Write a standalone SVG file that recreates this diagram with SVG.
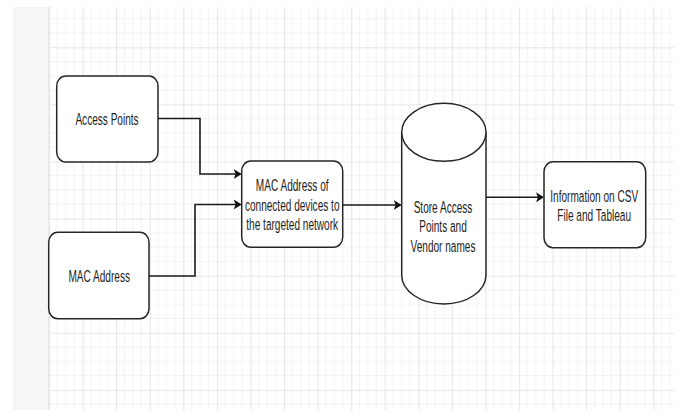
<svg xmlns="http://www.w3.org/2000/svg" width="679" height="410" viewBox="0 0 679 410">
  <style>
    .shape { fill: #ffffff; stroke: #262626; stroke-width: 1.5; }
    .label { font-family: "Liberation Sans", Arial, sans-serif; font-size: 12px; fill: #1e1e1e; text-anchor: middle; }
    .edge { fill: none; stroke: #1a1a1a; stroke-width: 1.6; marker-end: url(#arrow); }
    .minor { stroke: #f3f3f3; stroke-width: 1; }
    .major { stroke: #e6e6e6; stroke-width: 1.2; }
  </style>
  <defs>
    <!-- canvas grid: minor lines every 8.39 x 14.28, major every 4 minors -->
    <pattern id="grid" patternUnits="userSpaceOnUse" x="49" y="47.3" width="33.57" height="57.1">
      <line class="minor" x1="8.39" y1="0" x2="8.39" y2="57.1"/>
      <line class="minor" x1="16.79" y1="0" x2="16.79" y2="57.1"/>
      <line class="minor" x1="25.18" y1="0" x2="25.18" y2="57.1"/>
      <line class="minor" x1="0" y1="14.28" x2="33.57" y2="14.28"/>
      <line class="minor" x1="0" y1="28.55" x2="33.57" y2="28.55"/>
      <line class="minor" x1="0" y1="42.83" x2="33.57" y2="42.83"/>
      <line class="major" x1="0.5" y1="0" x2="0.5" y2="57.1"/>
      <line class="major" x1="0" y1="0.5" x2="33.57" y2="0.5"/>
    </pattern>
    <marker id="arrow" markerUnits="userSpaceOnUse" viewBox="0 0 8 10" markerWidth="8" markerHeight="10" refX="6.5" refY="5" orient="auto">
      <path d="M0,0 L8,5 L0,10 L2,5 Z" fill="#111111"/>
    </marker>
  </defs>

  <!-- page background -->
  <g id="canvas">
    <rect x="0" y="0" width="679" height="410" fill="#ffffff"/>
    <rect x="13" y="7" width="35" height="403" fill="#f5f6f8"/>
    <rect x="48" y="7" width="626" height="403" fill="#ffffff"/>
    <rect x="48" y="7" width="626" height="403" fill="url(#grid)"/>
    <line x1="48.5" y1="7" x2="48.5" y2="410" stroke="#e9eaec" stroke-width="1"/>
  </g>

  <!-- connectors -->
  <g id="connectors">
    <path class="edge" d="M158,118.5 H200 V174 H240.2"/>
    <path class="edge" d="M149,276 H195 V204.5 H240.2"/>
    <path class="edge" d="M342.7,205 H400.2"/>
    <path class="edge" d="M486,197.3 H542.5"/>
  </g>

  <g id="access-points">
    <rect class="shape" x="56.7" y="76" width="101.3" height="86" rx="9" ry="10"/>
    <text class="label" transform="translate(107,125) scale(0.84,1.44)">Access Points</text>
  </g>

  <g id="mac-address">
    <rect class="shape" x="48.7" y="232.3" width="100.3" height="86.4" rx="9" ry="10"/>
    <text class="label" transform="translate(99.2,282.3) scale(0.84,1.44)">MAC Address</text>
  </g>

  <g id="connected-devices">
    <rect class="shape" x="241.7" y="161" width="101" height="86.3" rx="9" ry="10"/>
    <text class="label" transform="translate(292.2,191) scale(0.84,1.44)">MAC Address of</text>
    <text class="label" transform="translate(292.2,210.7) scale(0.84,1.44)">connected devices to</text>
    <text class="label" transform="translate(292.2,230.4) scale(0.84,1.44)">the targeted network</text>
  </g>

  <g id="store">
    <path class="shape" d="M401.7,132.3 A42.15,29 0 0 1 486,132.3 V275 A42.15,29 0 0 1 401.7,275 Z"/>
    <path class="shape" fill="none" d="M401.7,132.3 A42.15,29 0 0 0 486,132.3"/>
    <text class="label" transform="translate(443,212.7) scale(0.84,1.44)">Store Access</text>
    <text class="label" transform="translate(443,232.2) scale(0.84,1.44)">Points and</text>
    <text class="label" transform="translate(443,251.7) scale(0.84,1.44)">Vendor names</text>
  </g>

  <g id="csv-tableau">
    <rect class="shape" x="544" y="161.7" width="101.7" height="86" rx="9" ry="10"/>
    <text class="label" transform="translate(594.2,201.7) scale(0.84,1.44)">Information on CSV</text>
    <text class="label" transform="translate(594.2,221.3) scale(0.84,1.44)">File and Tableau</text>
  </g>
</svg>
